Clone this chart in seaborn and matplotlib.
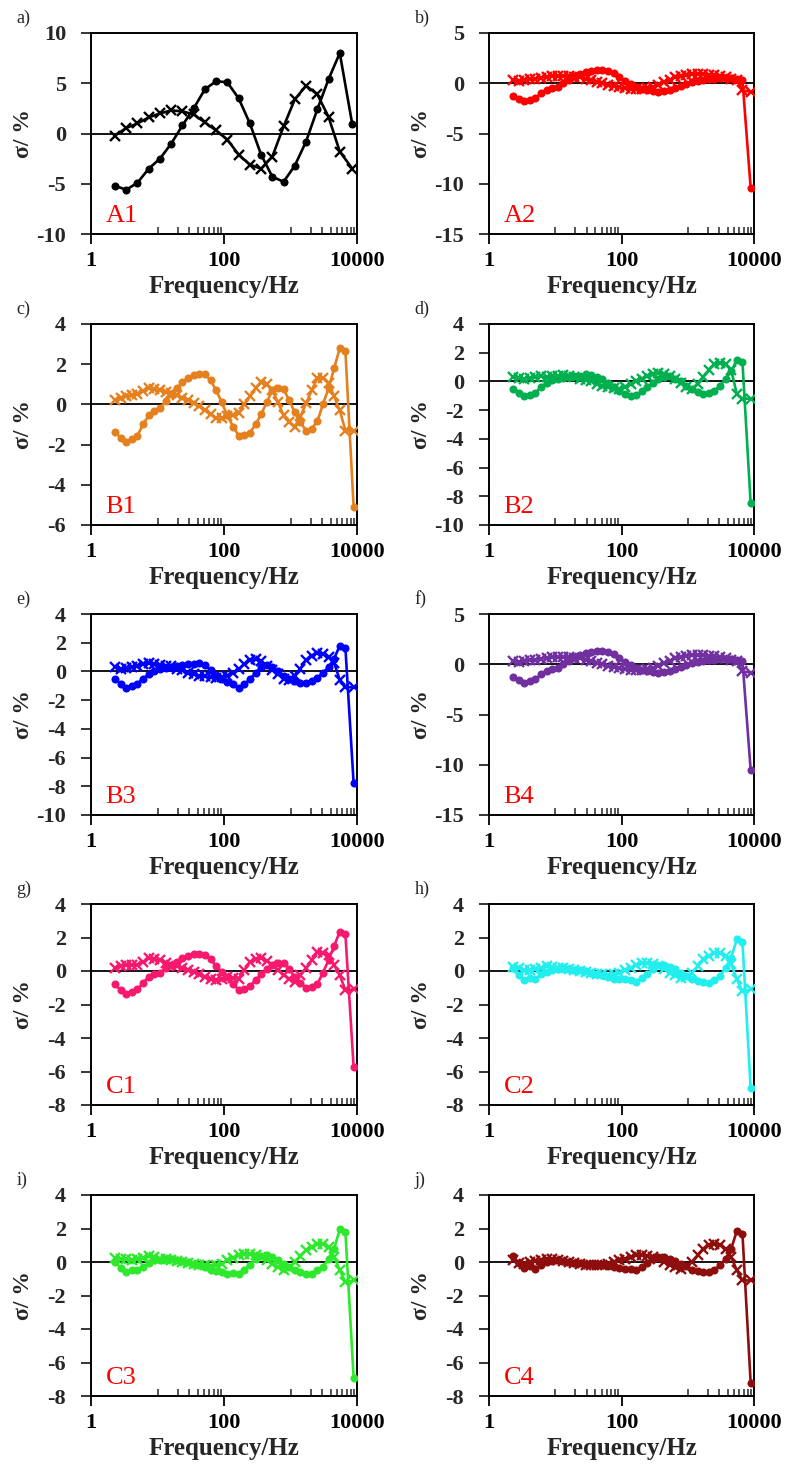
import numpy as np
import pandas as pd
import matplotlib
matplotlib.use("Agg")
import matplotlib.pyplot as plt
import seaborn as sns
from matplotlib.ticker import FixedLocator, FixedFormatter, NullFormatter

# ---------------- data ----------------
freq_coarse = [2.30, 3.39, 5.00, 7.38, 10.9, 16.1, 23.7, 35.0, 51.6, 76.2, 112,
               166, 245, 361, 533, 787, 1161, 1714, 2529, 3733, 5508, 8500]

freq_fine = [2.30, 2.79, 3.39, 4.12, 5.00, 6.07, 7.38, 8.97, 10.9, 13.2, 16.1,
             19.5, 23.7, 28.8, 35.0, 42.5, 51.6, 62.7, 76.2, 92.6, 112, 137,
             166, 202, 245, 298, 361, 439, 533, 648, 787, 956, 1161, 1411,
             1714, 2082, 2529, 3073, 3733, 4535, 5508, 6692, 8900]

A1_circ = [-5.2, -5.6, -4.9, -3.5, -2.5, -1.0, 0.8, 2.5, 4.4, 5.2, 5.1, 3.5,
           1.0, -2.1, -4.3, -4.8, -3.2, -0.8, 2.4, 5.4, 8.0, 0.9]
A1_cross = [-0.2, 0.55, 1.0, 1.6, 2.0, 2.3, 2.2, 1.9, 1.1, 0.3, -0.6, -2.1,
            -3.1, -3.5, -2.3, 0.7, 3.4, 4.75, 3.9, 1.65, -1.8, -3.5]

A2_circ = [-1.3, -1.6, -1.8, -1.7, -1.5, -1.0, -0.65, -0.5, -0.4, 0.0, 0.35,
           0.7, 0.95, 1.1, 1.25, 1.3, 1.35, 1.2, 1.0, 0.6, 0.25, -0.1, -0.4,
           -0.55, -0.7, -0.8, -0.9, -0.8, -0.65, -0.45, -0.25, -0.05, 0.1,
           0.25, 0.35, 0.4, 0.45, 0.5, 0.55, 0.5, 0.45, 0.35, -10.4]
A2_cross = [0.3, 0.25, 0.35, 0.4, 0.45, 0.55, 0.65, 0.75, 0.75, 0.75, 0.7,
            0.65, 0.6, 0.45, 0.35, 0.15, 0.0, -0.15, -0.3, -0.4, -0.5, -0.55,
            -0.6, -0.55, -0.5, -0.35, -0.2, 0.1, 0.35, 0.6, 0.75, 0.85, 0.9,
            0.9, 0.9, 0.85, 0.8, 0.7, 0.6, 0.45, 0.3, -0.7, -0.85]

B1_circ = [-1.39, -1.65, -1.85, -1.7, -1.55, -1.0, -0.55, -0.35, -0.2, 0.15,
           0.5, 0.8, 1.1, 1.3, 1.45, 1.5, 1.5, 1.2, 0.7, 0.1, -0.55, -1.1,
           -1.55, -1.5, -1.4, -1.0, -0.5, 0.1, 0.7, 0.8, 0.75, 0.2, -0.4,
           -0.9, -1.3, -1.2, -0.85, 0.0, 0.8, 1.8, 2.8, 2.65, -5.1]
B1_cross = [0.2, 0.3, 0.4, 0.45, 0.5, 0.65, 0.8, 0.75, 0.7, 0.6, 0.55, 0.45,
            0.3, 0.2, 0.05, -0.1, -0.3, -0.5, -0.7, -0.7, -0.6, -0.55, -0.45,
            0.0, 0.4, 0.8, 1.1, 1.0, 0.7, 0.1, -0.55, -0.9, -1.1, -0.6, 0.05,
            0.7, 1.3, 1.3, 1.05, 0.4, -0.3, -1.3, -1.3]

B2_circ = [-0.5, -0.8, -1.0, -0.95, -0.8, -0.4, -0.1, 0.1, 0.2, 0.25, 0.3,
           0.35, 0.4, 0.5, 0.45, 0.3, 0.15, -0.1, -0.4, -0.7, -0.9, -1.0,
           -0.95, -0.7, -0.4, -0.1, 0.15, 0.3, 0.35, 0.2, 0.0, -0.3, -0.55,
           -0.75, -0.9, -0.8, -0.65, -0.3, 0.2, 0.7, 1.5, 1.35, -8.5]
B2_cross = [0.3, 0.25, 0.2, 0.25, 0.3, 0.35, 0.3, 0.35, 0.4, 0.45, 0.4, 0.3,
            0.2, 0.1, 0.0, -0.15, -0.3, -0.4, -0.45, -0.5, -0.4, -0.2, 0.0,
            0.2, 0.4, 0.55, 0.6, 0.5, 0.4, 0.2, -0.1, -0.4, -0.5, -0.2, 0.3,
            0.8, 1.2, 1.3, 1.2, 0.8, -0.9, -1.2, -1.2]

B3_circ = [-0.5, -0.9, -1.15, -1.0, -0.85, -0.5, -0.2, 0.05, 0.15, 0.25, 0.3,
           0.35, 0.45, 0.55, 0.5, 0.6, 0.45, 0.1, -0.3, -0.55, -0.75, -0.85,
           -1.15, -0.9, -0.55, -0.1, 0.3, 0.45, 0.3, 0.0, -0.3, -0.5, -0.7,
           -0.8, -0.8, -0.65, -0.45, -0.1, 0.3, 0.9, 1.8, 1.65, -7.8]
B3_cross = [0.3, 0.2, 0.25, 0.3, 0.4, 0.5, 0.6, 0.5, 0.45, 0.4, 0.35, 0.2,
            0.1, -0.1, -0.2, -0.3, -0.35, -0.4, -0.45, -0.4, -0.3, -0.1, 0.15,
            0.5, 0.8, 0.85, 0.7, 0.4, 0.1, -0.2, -0.5, -0.6, -0.3, 0.2, 0.8,
            1.1, 1.3, 1.2, 1.0, 0.6, -0.6, -1.1, -1.1]

B4_circ = [-1.3, -1.6, -1.85, -1.7, -1.5, -1.0, -0.65, -0.5, -0.4, 0.0, 0.35,
           0.7, 0.95, 1.1, 1.25, 1.3, 1.35, 1.2, 1.0, 0.6, 0.25, -0.1, -0.4,
           -0.55, -0.7, -0.8, -0.9, -0.8, -0.65, -0.45, -0.25, -0.05, 0.1,
           0.25, 0.35, 0.4, 0.45, 0.5, 0.55, 0.5, 0.45, 0.35, -10.5]
B4_cross = [0.3, 0.25, 0.35, 0.4, 0.45, 0.55, 0.65, 0.75, 0.75, 0.75, 0.7,
            0.65, 0.6, 0.45, 0.35, 0.15, 0.0, -0.15, -0.3, -0.4, -0.5, -0.55,
            -0.6, -0.55, -0.5, -0.35, -0.2, 0.1, 0.35, 0.6, 0.75, 0.85, 0.9,
            0.9, 0.9, 0.85, 0.8, 0.7, 0.6, 0.45, 0.3, -0.7, -0.85]

C1_circ = [-0.8, -1.15, -1.35, -1.25, -1.1, -0.7, -0.35, -0.2, -0.1, 0.15,
           0.35, 0.55, 0.75, 0.9, 1.0, 1.0, 0.95, 0.7, 0.3, -0.05, -0.35,
           -0.75, -1.15, -1.05, -0.9, -0.55, -0.2, 0.1, 0.35, 0.45, 0.5, 0.1,
           -0.35, -0.7, -1.0, -0.95, -0.8, -0.1, 0.65, 1.5, 2.35, 2.2, -5.75]
C1_cross = [0.2, 0.3, 0.35, 0.35, 0.35, 0.55, 0.75, 0.7, 0.65, 0.5, 0.35, 0.3,
            0.2, 0.05, -0.05, -0.2, -0.35, -0.45, -0.55, -0.45, -0.35, -0.4,
            -0.45, 0.05, 0.55, 0.7, 0.8, 0.6, 0.35, 0.05, -0.25, -0.45, -0.65,
            -0.25, 0.15, 0.65, 1.15, 1.05, 0.95, 0.35, -0.25, -1.15, -1.1]

C2_circ = [0.2, -0.25, -0.55, -0.4, -0.5, -0.2, -0.05, 0.05, 0.1, 0.15, 0.1,
           0.05, 0.05, 0.0, -0.1, -0.15, -0.25, -0.35, -0.45, -0.5, -0.5,
           -0.55, -0.65, -0.4, -0.2, 0.1, 0.35, 0.35, 0.25, 0.1, -0.1, -0.3,
           -0.5, -0.6, -0.65, -0.7, -0.55, -0.3, 0.2, 0.8, 1.9, 1.75, -7.0]
C2_cross = [0.25, 0.15, 0.05, 0.05, 0.1, 0.2, 0.3, 0.25, 0.2, 0.15, 0.1, 0.05,
            0.0, -0.05, -0.1, -0.15, -0.2, -0.25, -0.2, -0.1, 0.05, 0.2, 0.35,
            0.5, 0.5, 0.4, 0.3, 0.1, -0.1, -0.25, -0.4, -0.35, -0.1, 0.3, 0.7,
            0.9, 1.05, 1.1, 0.9, 0.4, -0.5, -1.2, -1.1]

C3_circ = [0.0, -0.35, -0.6, -0.5, -0.5, -0.3, -0.05, 0.1, 0.1, 0.15, 0.15,
           0.1, 0.05, 0.0, -0.1, -0.2, -0.3, -0.45, -0.55, -0.6, -0.7, -0.65,
           -0.7, -0.45, -0.15, 0.15, 0.35, 0.4, 0.3, 0.1, -0.1, -0.3, -0.5,
           -0.6, -0.7, -0.7, -0.5, -0.3, 0.2, 0.8, 1.95, 1.8, -6.9]
C3_cross = [0.25, 0.2, 0.15, 0.1, 0.15, 0.25, 0.35, 0.3, 0.2, 0.15, 0.1, 0.05,
            0.0, -0.05, -0.1, -0.15, -0.2, -0.25, -0.2, -0.1, 0.1, 0.25, 0.4,
            0.5, 0.5, 0.4, 0.3, 0.1, -0.1, -0.3, -0.45, -0.35, 0.0, 0.35, 0.7,
            0.9, 1.05, 1.1, 0.9, 0.3, -0.5, -1.2, -1.1]

C4_circ = [0.35, -0.05, -0.35, -0.25, -0.4, -0.2, 0.0, 0.05, 0.1, 0.05, 0.0,
           -0.05, -0.05, -0.1, -0.1, -0.15, -0.2, -0.25, -0.3, -0.35, -0.4,
           -0.4, -0.5, -0.3, -0.05, 0.15, 0.3, 0.3, 0.2, 0.05, -0.1, -0.25,
           -0.45, -0.55, -0.6, -0.6, -0.45, -0.2, 0.2, 0.8, 1.85, 1.7, -7.2]
C4_cross = [0.1, -0.05, -0.1, 0.0, 0.05, 0.1, 0.2, 0.15, 0.1, 0.05, 0.0,
            -0.05, -0.1, -0.15, -0.2, -0.2, -0.15, -0.1, 0.0, 0.1, 0.2, 0.3,
            0.4, 0.4, 0.35, 0.3, 0.2, 0.0, -0.15, -0.3, -0.4, -0.3, 0.0, 0.4,
            0.8, 1.0, 1.1, 1.0, 0.8, 0.3, -0.5, -1.1, -1.1]

panel_letters = ["a)", "b)", "c)", "d)", "e)", "f)", "g)", "h)", "i)", "j)"]
sample_names = ["A1", "A2", "B1", "B2", "B3", "B4", "C1", "C2", "C3", "C4"]
x_ticks = [1, 100, 10000]
x_tick_labels = ["1", "100", "10000"]
x_minor = [10, 20, 30, 40, 50, 60, 70, 80, 90,
           1000, 2000, 3000, 4000, 5000, 6000, 7000, 8000, 9000]

# ---------------- style ----------------
sns.set_style("white")
plt.rcParams["font.family"] = ["Liberation Serif", "DejaVu Serif"]
plt.rcParams["font.weight"] = "bold"
plt.rcParams["axes.unicode_minus"] = False

panels = [
    (freq_coarse, A1_circ, A1_cross, "#000000", (-10, 10, 5)),
    (freq_fine, A2_circ, A2_cross, "#FF0000", (-15, 5, 5)),
    (freq_fine, B1_circ, B1_cross, "#E5801F", (-6, 4, 2)),
    (freq_fine, B2_circ, B2_cross, "#00B050", (-10, 4, 2)),
    (freq_fine, B3_circ, B3_cross, "#0000FF", (-10, 4, 2)),
    (freq_fine, B4_circ, B4_cross, "#7030A0", (-15, 5, 5)),
    (freq_fine, C1_circ, C1_cross, "#F7196E", (-8, 4, 2)),
    (freq_fine, C2_circ, C2_cross, "#22EEEE", (-8, 4, 2)),
    (freq_fine, C3_circ, C3_cross, "#2EE82E", (-8, 4, 2)),
    (freq_fine, C4_circ, C4_cross, "#8E0E0E", (-8, 4, 2)),
]

W, H = 792, 1464
fig = plt.figure(figsize=(W / 100, H / 100), dpi=100)
col_left = [91, 489]
col_width = [266, 265]
row_top = [33, 324, 614, 904, 1195]
ax_h = 201

for i, (fr, circ, cross, col, (ymin, ymax, ystep)) in enumerate(panels):
    r, c = divmod(i, 2)
    rect = [col_left[c] / W, 1 - (row_top[r] + ax_h) / H, col_width[c] / W, ax_h / H]
    ax = fig.add_axes(rect)
    ax.set_xscale("log")
    ax.axhline(0, color="black", lw=1.3, zorder=1)
    df = pd.DataFrame({"f": fr, "circ": circ, "cross": cross})
    sns.lineplot(data=df, x="f", y="circ", ax=ax, color=col, marker="o",
                 markersize=5.8, markeredgewidth=0, markerfacecolor=col,
                 markeredgecolor=col, lw=1.9, estimator=None, zorder=3)
    sns.lineplot(data=df, x="f", y="cross", ax=ax, color=col, marker="x",
                 markersize=6.5, markeredgewidth=1.7, markeredgecolor=col,
                 lw=1.9, estimator=None, zorder=3)
    ax.set_xlim(1, 10000)
    ax.set_ylim(ymin, ymax)
    ax.set_yticks(np.arange(ymin, ymax + 0.1, ystep))
    ax.xaxis.set_major_locator(FixedLocator(x_ticks))
    ax.xaxis.set_major_formatter(FixedFormatter(x_tick_labels))
    ax.xaxis.set_minor_locator(FixedLocator(x_minor))
    ax.xaxis.set_minor_formatter(NullFormatter())
    ax.tick_params(axis="x", which="major", direction="out", length=7,
                   width=1.3, pad=5, labelsize=16, bottom=True, colors="black")
    ax.tick_params(axis="x", which="minor", direction="in", length=5,
                   width=1.1, bottom=True, top=False)
    ax.tick_params(axis="y", which="major", direction="out", length=7,
                   width=1.3, pad=11, labelsize=16, left=True)
    for sp in ax.spines.values():
        sp.set_visible(True)
        sp.set_color("black")
        sp.set_linewidth(1.4)
    ax.set_xlabel("Frequency/Hz", fontsize=18, fontweight="bold", labelpad=3)
    ax.set_ylabel("σ/ %", fontsize=17, fontweight="bold")
    ax.yaxis.set_label_coords(-0.215, 0.5)
    ax.text(0.055, 0.035, sample_names[i], transform=ax.transAxes, color="red",
            fontsize=19, fontweight="normal", ha="left", va="bottom")
    ax.text(-0.28, 1.075, panel_letters[i], transform=ax.transAxes,
            fontsize=13, fontweight="normal", ha="left", va="center")

fig.savefig("out.png", dpi=100)
